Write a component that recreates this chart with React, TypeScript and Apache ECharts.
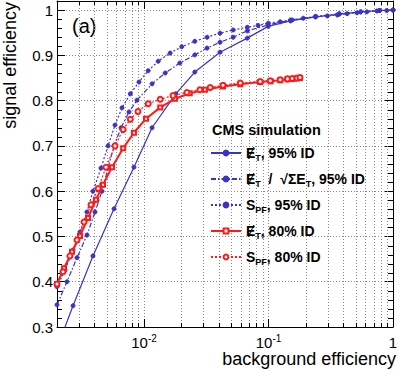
import React, { useEffect, useRef } from "react";
import * as echarts from "echarts";

const FONT = '"Liberation Sans", Arial, Helvetica, sans-serif';

const X_MIN = 0.002;
const X_MAX = 1;
const Y_MIN = 0.3;
const Y_MAX = 1.02;

// MET, 95% ID (blue, solid)
const et95: [number, number][] = [
  [0.00215, 0.276], [0.00269, 0.347], [0.00389, 0.457], [0.00574, 0.561],
  [0.0083, 0.653], [0.0116, 0.74], [0.018, 0.815], [0.0256, 0.863],
  [0.0408, 0.907], [0.0675, 0.938], [0.0995, 0.964], [0.15, 0.976],
  [0.24, 0.985], [0.37, 0.991], [0.55, 0.996], [0.78, 0.999], [1.0, 1.0],
];

// MET / sqrt(sumET), 95% ID (blue, dash-dot)
const etSig95: [number, number][] = [
  [0.002, 0.349], [0.002405, 0.4], [0.002894, 0.453], [0.003483, 0.503],
  [0.004038, 0.554], [0.004597, 0.6], [0.005136, 0.651], [0.00574, 0.7],
  [0.006531, 0.74], [0.007572, 0.775], [0.008781, 0.801], [0.0116, 0.837],
  [0.0148, 0.861], [0.0194, 0.883], [0.0256, 0.901], [0.0321, 0.916],
  [0.0408, 0.929], [0.052, 0.94], [0.0675, 0.954], [0.0995, 0.967],
  [0.15, 0.978], [0.24, 0.986], [0.37, 0.992], [0.55, 0.996], [0.78, 0.999],
  [1.0, 1.0],
];

// S_PF, 95% ID (blue, dotted)
const spf95: [number, number][] = [
  [0.002, 0.389], [0.00232, 0.426], [0.00269, 0.47], [0.00306, 0.51],
  [0.00348, 0.554], [0.00389, 0.6], [0.004513, 0.651], [0.00514, 0.7],
  [0.00585, 0.746], [0.006654, 0.784], [0.00776, 0.815], [0.00911, 0.841],
  [0.0108, 0.866], [0.013, 0.887], [0.0162, 0.905], [0.0201, 0.919],
  [0.0256, 0.931], [0.0321, 0.94], [0.0408, 0.949], [0.052, 0.956],
  [0.0675, 0.962], [0.0825, 0.966], [0.0995, 0.971], [0.124, 0.974],
  [0.155, 0.978], [0.19, 0.982], [0.237, 0.985], [0.297, 0.987],
  [0.357, 0.989], [0.428, 0.992], [0.514, 0.994], [0.617, 0.996],
  [0.742, 0.998], [0.891, 0.999], [1.0, 1.0],
];

// MET, 80% ID (red, solid)
const et80: [number, number][] = [
  [0.002, 0.395], [0.002276, 0.43], [0.002639, 0.466], [0.00306, 0.501],
  [0.003548, 0.541], [0.004114, 0.581], [0.004684, 0.614], [0.005532, 0.653],
  [0.0068, 0.695], [0.0083, 0.729], [0.01037, 0.76], [0.0135, 0.785],
  [0.01773, 0.804], [0.0233, 0.816], [0.0309, 0.824], [0.0431, 0.831],
  [0.0593, 0.836], [0.0857, 0.841], [0.104, 0.843], [0.124, 0.845],
  [0.142, 0.847], [0.155, 0.848], [0.169, 0.849], [0.179, 0.85],
];

// S_PF, 80% ID (red, dotted)
const spf80: [number, number][] = [
  [0.002, 0.395], [0.002234, 0.422], [0.00254, 0.457], [0.002894, 0.492],
  [0.003296, 0.532], [0.003751, 0.57], [0.00428, 0.606], [0.004951, 0.653],
  [0.00585, 0.7], [0.0068, 0.736], [0.00776, 0.759], [0.00894, 0.776],
  [0.0108, 0.793], [0.0135, 0.803], [0.0171, 0.811], [0.0221, 0.818],
  [0.0281, 0.824], [0.034, 0.829], [0.0431, 0.834], [0.0593, 0.839],
  [0.0857, 0.842], [0.1033, 0.844], [0.124, 0.846], [0.142, 0.848],
  [0.155, 0.849], [0.169, 0.85], [0.179, 0.851],
];

// minor tick positions
const xMinorTicks = [
  0.003, 0.004, 0.005, 0.006, 0.007, 0.008, 0.009,
  0.02, 0.03, 0.04, 0.05, 0.06, 0.07, 0.08, 0.09,
  0.2, 0.3, 0.4, 0.5, 0.6, 0.7, 0.8, 0.9,
];
const yMinorTicks = [
  0.32, 0.34, 0.36, 0.38, 0.42, 0.44, 0.46, 0.48, 0.52, 0.54, 0.56, 0.58,
  0.62, 0.64, 0.66, 0.68, 0.72, 0.74, 0.76, 0.78, 0.82, 0.84, 0.86, 0.88,
  0.92, 0.94, 0.96, 0.98,
];

const NAMES = {
  et95: "ET, 95% ID",
  etSig95: "ET / sqrt(ΣET), 95% ID",
  spf95: "SPF, 95% ID",
  et80: "ET, 80% ID",
  spf80: "SPF, 80% ID",
};

const LEGEND_TEXT: Record<string, string> = {
  [NAMES.et95]: "{m|Ɇ}{s|T}{m|, 95% ID}",
  [NAMES.etSig95]: "{m|Ɇ}{s|T}{m|  /  √ΣE}{s|T}{m|, 95% ID}",
  [NAMES.spf95]: "{m|S}{s|PF}{m|, 95% ID}",
  [NAMES.et80]: "{m|Ɇ}{s|T}{m|, 80% ID}",
  [NAMES.spf80]: "{m|S}{s|PF}{m|, 80% ID}",
};

const BLUE = "#3b33c6";
const RED = "#ff1a1a";
const GRID_COLOR = "#8a8a8a";

function lineSeries(
  name: string,
  data: [number, number][],
  color: string,
  width: number,
  type: any,
  symbol: string,
  size: number,
  z: number
) {
  return {
    name,
    type: "line",
    data,
    xAxisIndex: 0,
    yAxisIndex: 0,
    symbol,
    symbolSize: size,
    showSymbol: true,
    clip: true,
    z,
    lineStyle: { color, width, type },
    itemStyle: { color, borderColor: color, borderWidth: 1 },
    emphasis: { disabled: true },
  };
}

export default function App() {
  const ref = useRef<HTMLDivElement>(null);

  useEffect(() => {
    if (!ref.current) return;
    const chart = echarts.init(ref.current, undefined, { renderer: "svg" });

    const option: any = {
      animation: false,
      backgroundColor: "#ffffff",
      textStyle: { fontFamily: FONT },
      grid: {
        left: 57,
        right: 6,
        top: 1,
        bottom: 47,
        containLabel: false,
        outerBoundsMode: "none",
      },
      xAxis: [
        {
          type: "log",
          logBase: 10,
          min: X_MIN,
          max: X_MAX,
          position: "bottom",
          axisLine: { show: true, onZero: false, lineStyle: { color: "#000", width: 1 } },
          axisTick: { show: true, inside: true, length: 8, lineStyle: { color: "#000" } },
          minorTick: { show: false },
          splitLine: { show: true, lineStyle: { color: GRID_COLOR, width: 1, type: [1, 2] } },
          axisLabel: {
            show: true,
            margin: 6,
            showMinLabel: false,
            showMaxLabel: true,
            color: "#000",
            formatter: (v: number) => {
              const e = Math.round(Math.log10(v));
              if (e === 0) return "{b|1}";
              return `{b|10}{sup|${e}}`;
            },
            rich: {
              b: { fontSize: 15, fontFamily: FONT, color: "#000", lineHeight: 18 },
              sup: { fontSize: 10, fontFamily: FONT, color: "#000", lineHeight: 8, verticalAlign: "top" },
            },
          },
        },
        {
          type: "log",
          logBase: 10,
          min: X_MIN,
          max: X_MAX,
          position: "top",
          axisLine: { show: true, onZero: false, lineStyle: { color: "#000", width: 1 } },
          axisTick: { show: true, inside: true, length: 8, lineStyle: { color: "#000" } },
          splitLine: { show: false },
          axisLabel: { show: false },
        },
      ],
      yAxis: [
        {
          type: "value",
          min: Y_MIN,
          max: Y_MAX,
          interval: 0.1,
          position: "left",
          axisLine: { show: true, onZero: false, lineStyle: { color: "#000", width: 1 } },
          axisTick: { show: true, inside: true, length: 8, lineStyle: { color: "#000" } },
          splitLine: { show: true, lineStyle: { color: GRID_COLOR, width: 1, type: [1, 2] } },
          axisLabel: {
            show: true,
            margin: 4,
            showMinLabel: true,
            showMaxLabel: false,
            color: "#000",
            fontSize: 15,
            fontFamily: FONT,
            formatter: (v: number) => (Math.abs(v - 1) < 1e-9 ? "1" : v.toFixed(1)),
          },
        },
        {
          type: "value",
          min: Y_MIN,
          max: Y_MAX,
          interval: 0.1,
          position: "right",
          axisLine: { show: true, onZero: false, lineStyle: { color: "#000", width: 1 } },
          axisTick: { show: true, inside: true, length: 8, lineStyle: { color: "#000" } },
          splitLine: { show: false },
          axisLabel: { show: false },
        },
      ],
      legend: {
        show: true,
        orient: "vertical",
        left: 210,
        top: 146,
        padding: 0,
        itemWidth: 30,
        itemHeight: 6,
        itemGap: 10,
        selectedMode: false,
        data: [NAMES.et95, NAMES.etSig95, NAMES.spf95, NAMES.et80, NAMES.spf80],
        formatter: (name: string) => LEGEND_TEXT[name] || name,
        textStyle: {
          color: "#000",
          fontFamily: FONT,
          rich: {
            m: { fontSize: 14, fontWeight: "bold", fontFamily: FONT, color: "#000", lineHeight: 18 },
            s: { fontSize: 9, fontWeight: "bold", fontFamily: FONT, color: "#000", lineHeight: 8, verticalAlign: "bottom" },
          },
        },
      },
      graphic: [
        {
          type: "text",
          x: 72,
          y: 26,
          style: {
            text: "(a)",
            fontSize: 20,
            fontFamily: FONT,
            fill: "#000",
            textAlign: "left",
            textVerticalAlign: "middle",
          },
        },
        {
          type: "text",
          x: 9.5,
          y: 2,
          rotation: Math.PI / 2,
          style: {
            text: "signal efficiency",
            fontSize: 18,
            fontFamily: FONT,
            fill: "#000",
            textAlign: "right",
            textVerticalAlign: "middle",
          },
        },
        {
          type: "text",
          x: 396,
          y: 359,
          style: {
            text: "background efficiency",
            fontSize: 18,
            fontFamily: FONT,
            fill: "#000",
            textAlign: "right",
            textVerticalAlign: "middle",
          },
        },
        {
          type: "text",
          x: 212,
          y: 130,
          style: {
            text: "CMS simulation",
            fontSize: 14.5,
            fontWeight: "bold",
            fontFamily: FONT,
            fill: "#000",
            textAlign: "left",
            textVerticalAlign: "middle",
          },
        },
      ],
      series: [
        {
          type: "custom",
          name: "xMinorGrid",
          silent: true,
          xAxisIndex: 0,
          yAxisIndex: 0,
          z: 1,
          data: xMinorTicks.map((v) => [v, Y_MIN]),
          renderItem: (_params: any, api: any) => {
            const v = api.value(0);
            const b = api.coord([v, Y_MIN]);
            const t = api.coord([v, Y_MAX]);
            const x = Math.round(b[0]) + 0.5;
            return {
              type: "group",
              children: [
                { type: "line", shape: { x1: x, y1: b[1], x2: x, y2: t[1] }, style: { stroke: GRID_COLOR, lineWidth: 1, lineDash: [1, 2] } },
                { type: "line", shape: { x1: x, y1: b[1], x2: x, y2: b[1] - 4 }, style: { stroke: "#000", lineWidth: 1 } },
                { type: "line", shape: { x1: x, y1: t[1], x2: x, y2: t[1] + 4 }, style: { stroke: "#000", lineWidth: 1 } },
              ],
            };
          },
        },
        {
          type: "custom",
          name: "yMinorTicks",
          silent: true,
          xAxisIndex: 0,
          yAxisIndex: 0,
          z: 1,
          data: yMinorTicks.map((v) => [X_MIN, v]),
          renderItem: (_params: any, api: any) => {
            const v = api.value(1);
            const l = api.coord([X_MIN, v]);
            const r = api.coord([X_MAX, v]);
            const y = Math.round(l[1]) + 0.5;
            return {
              type: "group",
              children: [
                { type: "line", shape: { x1: l[0], y1: y, x2: l[0] + 5, y2: y }, style: { stroke: "#000", lineWidth: 1 } },
                { type: "line", shape: { x1: r[0], y1: y, x2: r[0] - 5, y2: y }, style: { stroke: "#000", lineWidth: 1 } },
              ],
            };
          },
        },
        lineSeries(NAMES.et95, et95, BLUE, 1.2, "solid", "circle", 4, 5),
        lineSeries(NAMES.etSig95, etSig95, BLUE, 1.2, [5, 2, 1.5, 2], "circle", 4, 5),
        lineSeries(NAMES.spf95, spf95, BLUE, 1.2, [2, 2], "circle", 4, 5),
        lineSeries(NAMES.et80, et80, RED, 2, "solid", "emptyRect", 4, 6),
        lineSeries(NAMES.spf80, spf80, RED, 1.2, [2, 2], "emptyCircle", 5, 6),
      ],
    };

    chart.setOption(option);
    return () => {
      chart.dispose();
    };
  }, []);

  return (
    <div
      ref={ref}
      style={{ position: "fixed", left: 0, top: 0, width: 399, height: 374, background: "#fff" }}
    />
  );
}
